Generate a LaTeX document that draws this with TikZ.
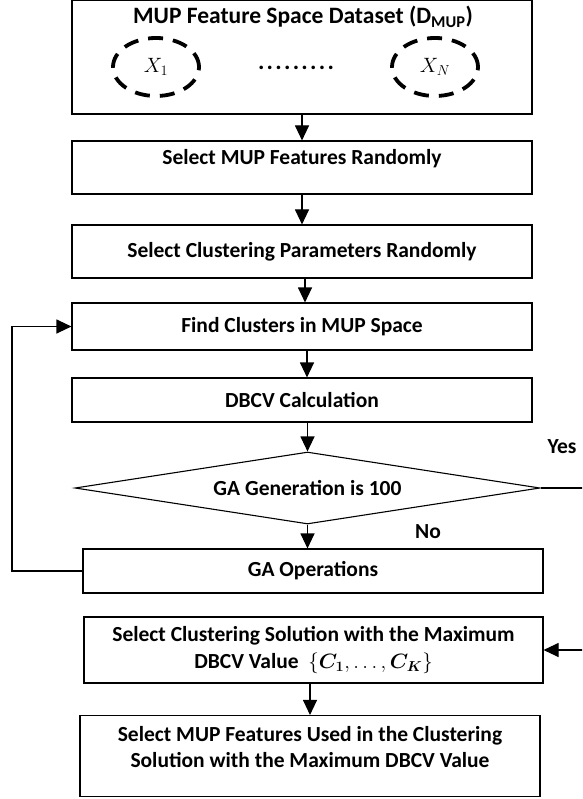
\documentclass[tikz,border=0pt]{standalone}
\usepackage{fontspec}
\usepackage{bm}
\setmainfont{Carlito}
\usetikzlibrary{shapes.geometric,arrows.meta}
\begin{document}
\begin{tikzpicture}[x=1pt,y=-1pt,
  box/.style={draw,line width=1.1pt,minimum width=460pt,inner sep=0pt,align=center,font=\fontsize{21.5}{26.5}\selectfont\bfseries},
  lbl/.style={font=\fontsize{21.5}{26.5}\selectfont\bfseries,inner sep=0pt,align=center},
  flow/.style={line width=1.1pt,-{Triangle[length=15pt,width=14pt]}},
  dell/.style={ellipse,draw,line width=3.8pt,dash pattern=on 15pt off 10pt,minimum width=86pt,minimum height=58pt,inner sep=0pt,font=\fontsize{21}{24}\selectfont}]
\useasboundingbox (0,0) rectangle (582,799);
\clip (0,0) rectangle (582,799);
% top box
\node[box,minimum height=114pt] (ds) at (302,57) {};
\node[lbl,font=\fontsize{23.5}{28}\selectfont\bfseries] (dstitle) at (303,17) {MUP Feature Space Dataset (D\textsubscript{MUP})};
\node[dell] (x1) at (156,67) {$X_1$};
\node[dell] (xn) at (435,67) {$X_N$};
\node[lbl,font=\fontsize{24}{28}\selectfont\bfseries] (dots) at (296,68) {\makebox[76pt]{.\hfill.\hfill.\hfill.\hfill.\hfill.\hfill.\hfill.\hfill.}};
% boxes
\node[box,minimum height=53pt,text depth=22pt] (b2) at (302,167.5) {Select MUP Features Randomly};
\node[box,minimum height=53pt] (b3) at (302,251.5) {Select Clustering Parameters Randomly};
\node[box,minimum height=47pt] (b4) at (302,326.5) {Find Clusters in MUP Space};
\node[box,minimum height=44pt] (b5) at (302,400) {DBCV Calculation};
\node[diamond,draw,line width=1.1pt,inner sep=0pt,minimum width=465pt,minimum height=72pt,shape aspect=6.46,font=\fontsize{21.5}{26.5}\selectfont\bfseries] (dia) at (307.5,488) {GA Generation is 100};
\node[box,minimum height=44pt] (ga) at (313,571) {GA Operations};
\node[box,minimum width=459pt,minimum height=66pt] (b7) at (313.5,650) {Select Clustering Solution with the Maximum\\DBCV Value\ \ $\{\bm{C_1},\ldots,\bm{C_K}\}$};
\node[box,minimum height=81pt] (b8) at (310,756) {};
\node[lbl] (b8text) at (310,747) {Select MUP Features Used in the Clustering\\Solution with the Maximum DBCV Value};
% labels
\node[lbl] (yes) at (562,447) {Yes};
\node[lbl] (no) at (428,532) {No};
% connectors
\draw[flow] (ds.south) -- (b2.north);
\draw[flow] (b2.south) -- (b3.north);
\draw[flow] ([xshift=3pt]b3.south) -- ([xshift=3pt]b4.north);
\draw[flow] ([xshift=5pt]b4.south) -- ([xshift=5pt]b5.north);
\draw[flow] (b5.south -| dia.north) -- (dia.north);
\draw[flow] (dia.south) -- (dia.south |- ga.north);
\draw[flow] (b7.south -| b8.north) -- (b8.north);
\coordinate (loopx) at (12,0);
\draw[flow] (ga.west) -- (loopx |- ga.west) -- (loopx |- b4.west) -- (b4.west);
\coordinate (yesx) at (586,0);
\draw[flow] (dia.east) -- (yesx |- dia.east) -- (yesx |- b7.east) -- (b7.east);
\end{tikzpicture}
\end{document}
